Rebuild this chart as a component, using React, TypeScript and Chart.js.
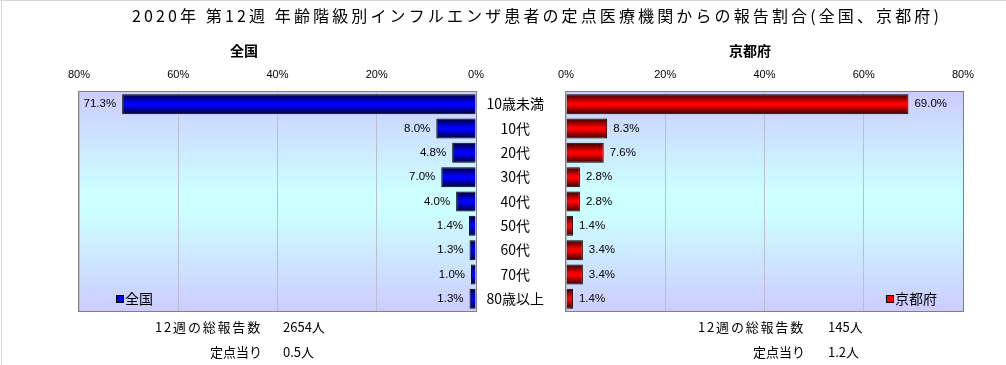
import React, { useEffect, useRef } from "react";
import { Chart, registerables } from "chart.js";

Chart.register(...registerables);

const categories = ["10歳未満", "10代", "20代", "30代", "40代", "50代", "60代", "70代", "80歳以上"];
const nationalValues = [71.3, 8.0, 4.8, 7.0, 4.0, 1.4, 1.3, 1.0, 1.3];
const kyotoValues = [69.0, 8.3, 7.6, 2.8, 2.8, 1.4, 3.4, 3.4, 1.4];
const axisMin = 0;
const axisMax = 80;
const axisStep = 20;

const titleText = "2020年 第12週 年齢階級別インフルエンザ患者の定点医療機関からの報告割合(全国、京都府)";
const leftName = "全国";
const rightName = "京都府";
const leftFooter = [["12週の総報告数", "2654人"], ["定点当り", "0.5人"]];
const rightFooter = [["12週の総報告数", "145人"], ["定点当り", "1.2人"]];

const W = 1006;
const H = 365;
const PLOT_TOP = 92;
const PLOT_BOTTOM = 311;
const LEFT_L = 79;
const LEFT_R = 476;
const RIGHT_L = 566;
const RIGHT_R = 963;
const BAR_PCT = 0.82;

const JP = '"Noto Sans CJK JP", "Noto Sans", sans-serif';
const NUM = '"Liberation Sans", Arial, sans-serif';

function fitText(ctx: CanvasRenderingContext2D, text: string, x: number, y: number, width: number, align: CanvasTextAlign) {
  ctx.save();
  (ctx as any).letterSpacing = "0px";
  const w = ctx.measureText(text).width;
  const ls = Math.max(0, (width - w) / text.length);
  (ctx as any).letterSpacing = ls + "px";
  ctx.textAlign = "left";
  let sx = x;
  const total = w + ls * text.length;
  if (align === "right") sx = x - total;
  else if (align === "center") sx = x - total / 2;
  ctx.fillText(text, sx, y);
  ctx.restore();
}

function barGradient(dark: string, light: string) {
  return (c: any) => {
    const chart = c.chart;
    const area = chart.chartArea;
    const y = chart.scales.y;
    if (!area || !y || c.type !== "data") return light;
    const center = y.getPixelForValue(c.dataIndex);
    const step = Math.abs(y.getPixelForValue(1) - y.getPixelForValue(0));
    const h = step * BAR_PCT;
    const g = chart.ctx.createLinearGradient(0, center - h / 2, 0, center + h / 2);
    g.addColorStop(0, dark);
    g.addColorStop(0.45, light);
    g.addColorStop(0.55, light);
    g.addColorStop(1, dark);
    return g;
  };
}

function makePanelPlugin(side: "left" | "right") {
  return {
    id: "panel" + side,
    beforeDraw(chart: any) {
      const { ctx, chartArea: a } = chart;
      ctx.save();
      const g = ctx.createLinearGradient(0, a.top, 0, a.bottom);
      g.addColorStop(0, "#CCCCFF");
      g.addColorStop(0.45, "#CCFFFF");
      g.addColorStop(0.55, "#CCFFFF");
      g.addColorStop(1, "#CCCCFF");
      ctx.fillStyle = g;
      ctx.fillRect(a.left, a.top, a.right - a.left, a.bottom - a.top);
      ctx.restore();
    },
    beforeDatasetsDraw(chart: any) {
      const { ctx, chartArea: a } = chart;
      ctx.save();
      ctx.strokeStyle = "#808080";
      ctx.lineWidth = 1;
      ctx.strokeRect(Math.round(a.left) - 0.5, Math.round(a.top) - 0.5, Math.round(a.right - a.left) + 1, Math.round(a.bottom - a.top) + 1);
      ctx.restore();
    },
    afterDatasetsDraw(chart: any) {
      const { ctx } = chart;
      const meta = chart.getDatasetMeta(0);
      const data = chart.data.datasets[0].data as number[];
      ctx.save();
      ctx.fillStyle = "#000";
      ctx.font = "11.5px " + NUM;
      ctx.textBaseline = "middle";
      meta.data.forEach((bar: any, i: number) => {
        const label = data[i].toFixed(1) + "%";
        if (side === "left") {
          ctx.textAlign = "right";
          ctx.fillText(label, bar.x - 6, bar.y);
        } else {
          ctx.textAlign = "left";
          ctx.fillText(label, bar.x + 6, bar.y);
        }
      });
      // legend inside the plot
      ctx.font = "14px " + JP;
      const name = side === "left" ? leftName : rightName;
      const color = side === "left" ? "#0000FF" : "#FF0000";
      const lx = side === "left" ? 117 : 887;
      const ly = 299;
      ctx.fillStyle = color;
      ctx.fillRect(lx, ly - 3, 6, 6);
      ctx.strokeStyle = "#000";
      ctx.lineWidth = 1;
      ctx.strokeRect(lx - 0.5, ly - 3.5, 7, 7);
      ctx.fillStyle = "#000";
      ctx.textAlign = "left";
      ctx.fillText(name, lx + 8, ly);

      // subtitle
      ctx.font = "bold 14px " + JP;
      ctx.textAlign = "center";
      ctx.fillText(name, side === "left" ? 244 : 750, 51);

      // footer
      ctx.font = "13px " + JP;
      const foot = side === "left" ? leftFooter : rightFooter;
      const labRight = side === "left" ? 262 : 805;
      const valLeft = side === "left" ? 283 : 828;
      const ys = [327, 352];
      foot.forEach((row, i) => {
        const lw = row[0].length === 8 ? 107 : 51;
        fitText(ctx, row[0], labRight, ys[i], lw, "right");
        fitText(ctx, row[1], valLeft, ys[i], 0, "left");
      });

      if (side === "left") {
        ctx.font = "16px " + JP;
        ctx.textBaseline = "middle";
        fitText(ctx, titleText, 132, 16, 810, "left");
        ctx.strokeStyle = "#D8D8D8";
        ctx.beginPath();
        ctx.moveTo(0, 0.5);
        ctx.lineTo(W, 0.5);
        ctx.moveTo(1.5, 0);
        ctx.lineTo(1.5, H);
        ctx.stroke();
      }
      ctx.restore();
    },
  };
}

function makeConfig(side: "left" | "right"): any {
  const isLeft = side === "left";
  return {
    type: "bar",
    data: {
      labels: categories,
      datasets: [
        {
          label: isLeft ? leftName : rightName,
          data: isLeft ? nationalValues : kyotoValues,
          backgroundColor: isLeft ? barGradient("#000033", "#0000FF") : barGradient("#330000", "#FF0000"),
          borderColor: "#000000",
          borderWidth: 1,
          barPercentage: BAR_PCT,
          categoryPercentage: 1,
        },
      ],
    },
    options: {
      indexAxis: "y",
      responsive: false,
      animation: false,
      events: [],
      layout: {
        padding: {
          top: PLOT_TOP - 30,
          bottom: H - PLOT_BOTTOM,
          left: isLeft ? LEFT_L : RIGHT_L - 92,
          right: isLeft ? W - LEFT_R : W - RIGHT_R,
        },
      },
      plugins: { legend: { display: false }, tooltip: { enabled: false }, title: { display: false } },
      scales: {
        x: {
          position: "top",
          reverse: isLeft,
          min: axisMin,
          max: axisMax,
          afterFit: (s: any) => {
            s.height = 30;
          },
          ticks: {
            stepSize: axisStep,
            padding: 10,
            color: "#000",
            font: { family: NUM, size: 11 },
            callback: (v: any) => v + "%",
          },
          grid: { color: "#BDBDCB", drawTicks: false },
          border: { display: false },
        },
        y: {
          position: "left",
          display: !isLeft,
          afterFit: (s: any) => {
            s.width = isLeft ? 0 : 92;
          },
          ticks: {
            color: "#000",
            padding: 14,
            crossAlign: "center",
            font: { family: JP, size: 14 },
          },
          grid: { display: false },
          border: { display: false },
        },
      },
    },
    plugins: [makePanelPlugin(side)],
  };
}

export default function App() {
  const leftRef = useRef<HTMLCanvasElement>(null);
  const rightRef = useRef<HTMLCanvasElement>(null);
  useEffect(() => {
    const a = new Chart(leftRef.current as HTMLCanvasElement, makeConfig("left"));
    const b = new Chart(rightRef.current as HTMLCanvasElement, makeConfig("right"));
    return () => {
      a.destroy();
      b.destroy();
    };
  }, []);
  const cs: React.CSSProperties = { position: "absolute", left: 0, top: 0, width: W, height: H };
  return (
    <div style={{ position: "absolute", left: 0, top: 0, width: W, height: H, background: "#fff" }}>
      <canvas ref={leftRef} width={W} height={H} style={cs} />
      <canvas ref={rightRef} width={W} height={H} style={cs} />
    </div>
  );
}
